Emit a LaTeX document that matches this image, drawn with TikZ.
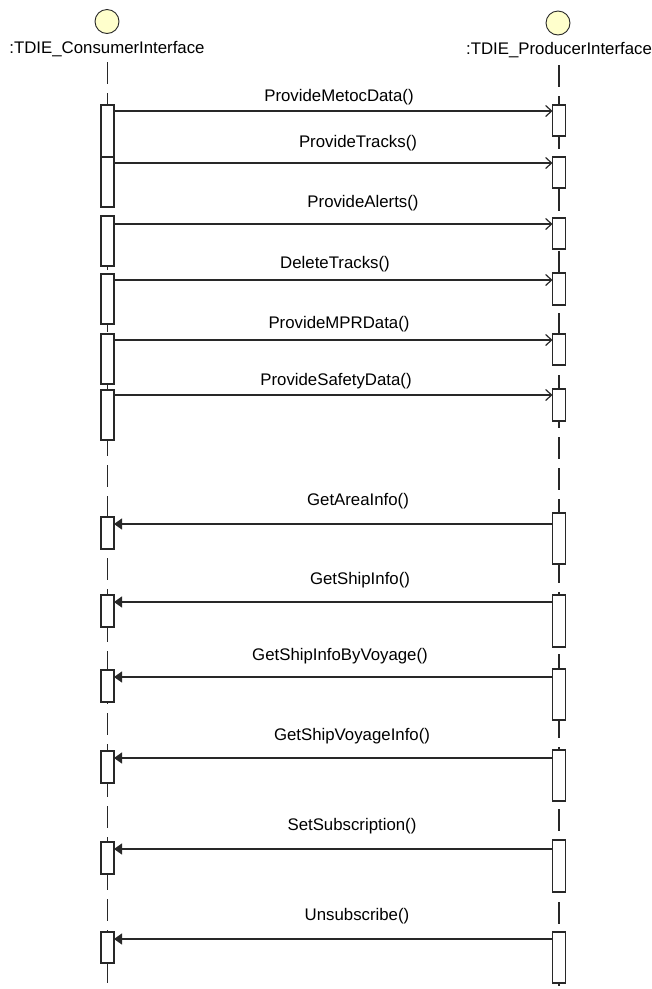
\documentclass[tikz,border=0pt]{standalone}
\usepackage{fontspec}
\setmainfont{Liberation Sans}
\usetikzlibrary{arrows.meta}
\definecolor{headfill}{RGB}{255,255,204}
\definecolor{ink}{RGB}{40,40,40}
\tikzset{
  lifeline/.style={draw=ink, line width=1.4pt, dash pattern=on 22pt off 9pt},
  actbox/.style={draw=ink, fill=white, line width=1.2pt, minimum width=13pt, inner sep=0pt, outer sep=0pt},
  callmsg/.style={draw=ink, line width=1.2pt, -{Straight Barb[length=6pt,width=11pt,line width=1.2pt]}},
  retmsg/.style={draw=ink, line width=1.2pt, -{Triangle[length=8pt,width=11pt]}},
  headcirc/.style={circle, draw=ink, fill=headfill, line width=0.9pt, minimum size=24pt, inner sep=0pt},
  txt/.style={font=\fontsize{16.8}{18}\selectfont, text=black, inner sep=0pt, anchor=base},
}
\newcommand\actbox[4]{\node[actbox, minimum height={#4-#3}] (#1) at (#2,{(#3+#4)/2}) {};}
\begin{document}
\begin{tikzpicture}[x=1pt,y=-1pt]
\useasboundingbox (0,0) rectangle (652,989);
% heads
\node[headcirc] (ch) at (107,21.5) {};
\node[headcirc] (ph) at (558,23) {};
\node[txt] (cl) at (107,53.5) {:TDIE\_ConsumerInterface};
\node[txt] (pl) at (559,54) {:TDIE\_ProducerInterface};
% lifelines
\coordinate (ctop) at (107.5,62);
\coordinate (cend) at (107.5,989);
\coordinate (ptop) at (559,65);
\coordinate (pend) at (559,989);
\draw[lifeline] (ctop) -- (cend);
\draw[lifeline] (ptop) -- (pend);
% consumer activations
\actbox{cb1}{107.5}{105}{157}
\actbox{cb2}{107.5}{157}{207}
\actbox{cb3}{107.5}{216}{266}
\actbox{cb4}{107.5}{274}{324}
\actbox{cb5}{107.5}{334}{384}
\actbox{cb6}{107.5}{390}{440}
\actbox{cb7}{107.5}{517}{549}
\actbox{cb8}{107.5}{595}{627}
\actbox{cb9}{107.5}{670}{702}
\actbox{cb10}{107.5}{751}{783}
\actbox{cb11}{107.5}{842}{874}
\actbox{cb12}{107.5}{932}{963}
% producer activations
\actbox{pb1}{559}{105}{136}
\actbox{pb2}{559}{157}{188}
\actbox{pb3}{559}{218}{249}
\actbox{pb4}{559}{273}{305}
\actbox{pb5}{559}{334}{365}
\actbox{pb6}{559}{389}{421}
\actbox{pb7}{559}{513}{564}
\actbox{pb8}{559}{595}{647}
\actbox{pb9}{559}{669}{720}
\actbox{pb10}{559}{750}{801}
\actbox{pb11}{559}{840}{892}
\actbox{pb12}{559}{932}{983}
% message levels
\coordinate (m1) at (0,111);
\coordinate (m2) at (0,163);
\coordinate (m3) at (0,224);
\coordinate (m4) at (0,280);
\coordinate (m5) at (0,340);
\coordinate (m6) at (0,395);
\coordinate (m7) at (0,524);
\coordinate (m8) at (0,602);
\coordinate (m9) at (0,677);
\coordinate (m10) at (0,758);
\coordinate (m11) at (0,849);
\coordinate (m12) at (0,939);
% calls
\draw[callmsg] (cb1.east |- m1) -- (pb1.west |- m1);
\draw[callmsg] (cb2.east |- m2) -- (pb2.west |- m2);
\draw[callmsg] (cb3.east |- m3) -- (pb3.west |- m3);
\draw[callmsg] (cb4.east |- m4) -- (pb4.west |- m4);
\draw[callmsg] (cb5.east |- m5) -- (pb5.west |- m5);
\draw[callmsg] (cb6.east |- m6) -- (pb6.west |- m6);
\draw[retmsg] (pb7.west |- m7) -- (cb7.east |- m7);
\draw[retmsg] (pb8.west |- m8) -- (cb8.east |- m8);
\draw[retmsg] (pb9.west |- m9) -- (cb9.east |- m9);
\draw[retmsg] (pb10.west |- m10) -- (cb10.east |- m10);
\draw[retmsg] (pb11.west |- m11) -- (cb11.east |- m11);
\draw[retmsg] (pb12.west |- m12) -- (cb12.east |- m12);
% labels
\node[txt] (l1) at (339,101.5) {ProvideMetocData()};
\node[txt] (l2) at (358,147.5) {ProvideTracks()};
\node[txt] (l3) at (363,207.5) {ProvideAlerts()};
\node[txt] (l4) at (335,268.5) {DeleteTracks()};
\node[txt] (l5) at (339,328.5) {ProvideMPRData()};
\node[txt] (l6) at (336,385.5) {ProvideSafetyData()};
\node[txt] (l7) at (358,505.5) {GetAreaInfo()};
\node[txt] (l8) at (360,584.5) {GetShipInfo()};
\node[txt] (l9) at (340,660.5) {GetShipInfoByVoyage()};
\node[txt] (l10) at (352,740.5) {GetShipVoyageInfo()};
\node[txt] (l11) at (352,830.5) {SetSubscription()};
\node[txt] (l12) at (357,920.5) {Unsubscribe()};
\end{tikzpicture}
\end{document}
